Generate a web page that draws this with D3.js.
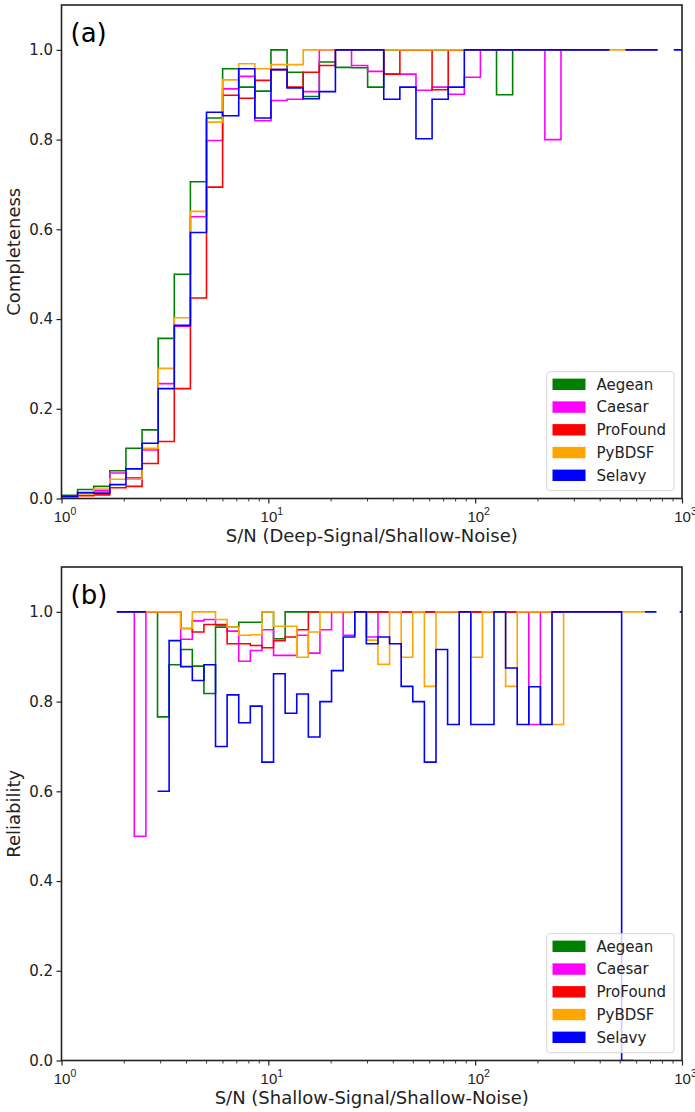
<!DOCTYPE html>
<html>
<head>
<meta charset="utf-8">
<script src="https://cdn.jsdelivr.net/npm/d3@7"></script>
<style>
  body { margin: 0; background: #fff; }
  svg { display: block; font-family: "DejaVu Sans", sans-serif; }
</style>
</head>
<body>
<div id="chart"></div>
<script>
const finders = ["Aegean", "Caesar", "ProFound", "PyBDSF", "Selavy"];
const finderColours = ["#008000", "#ff00ff", "#ff0000", "#ffa500", "#0000ff"];

// log spaced S/N bin edges, like np.logspace in the original
const completenessEdges = d3.range(40).map(i => 10 ** (0.0779 * i));
const reliabilityEdges = [10 ** 0.2678].concat(d3.range(49).map(i => 10 ** (0.352 + 0.0561 * i)));

const xTickValues = [1, 10, 100, 1000];
const xTickPowers = ["0", "1", "2", "3"];
const yTickValues = [0, 0.2, 0.4, 0.6, 0.8, 1.0];

// (a) completeness per bin, null = empty bin
const completenessAegean = [0.007, 0.020, 0.027, 0.062, 0.112, 0.153, 0.357, 0.500, 0.706, 0.848,
    0.958, 0.917, 0.908, 1.000, 0.950, 0.896, 0.973, 0.961, 0.960, 0.917,
    1, 1, 1, 1, 1, 1, 1, 0.900, 1, 1,
    1, 1, 1, 1, null, null, null, null, null];
const completenessCaesar = [0.005, 0.012, 0.017, 0.057, 0.046, 0.108, 0.256, 0.384, 0.628, 0.798,
    0.913, 0.941, 0.842, 0.887, 0.890, 0.907, 1, 1, 0.965, 0.952,
    0.946, 0.946, 0.910, 0.917, 0.901, 0.939, 1, 1, 1, 1,
    0.800, 1, 1, 1, null, null, null, null, null];
const completenessProFound = [0.003, 0.006, 0.008, 0.024, 0.027, 0.078, 0.127, 0.245, 0.447, 0.694,
    0.899, 0.892, 0.932, 0.956, 0.917, 0.950, 0.965, 1, 1, 1,
    0.946, 1, 1, 0.911, 1, 1, 1, 1, 1, 1,
    1, 1, 1, 1, null, null, null, null, null];
const completenessPyBDSF = [0.004, 0.010, 0.021, 0.043, 0.043, 0.112, 0.290, 0.403, 0.640, 0.839,
    0.933, 0.969, 0.958, 0.967, 0.967, 1, 1, 1, 1, 1,
    1, 1, 1, 1, 1, 1, 1, 1, 1, 1,
    1, 1, 1, 1, 1, 1, 1, null, null];
const completenessSelavy = [0.005, 0.013, 0.012, 0.031, 0.066, 0.123, 0.245, 0.386, 0.593, 0.861,
    0.853, 0.958, 0.848, 0.956, 0.915, 0.891, 0.907, 1, 1, 1,
    0.890, 0.917, 0.802, 0.890, 0.917, 1, 1, 1, 1, 1,
    1, 1, 1, 1, null, 1, 1, null, 1];

// (b) reliability per bin
const reliabilityAegean = [1, 1, 1, 0.766, 0.882, 0.916, 0.879, 0.818, 0.966, 0.966, 0.977,
    0.977, 1, 0.940, 1, 1, 1, 1, 1, 1, 1,
    1, 1, 1, 1, 1, 1, 1, 1, 1, 1,
    1, 1, 1, 1, 1, 1, 1, 1, 1, 1,
    1, 1, null, null, null, null, null, null];
const reliabilityCaesar = [1, 0.5, 1, 1, 1, 0.939, 0.980, 0.983, 0.970, 0.957, 0.890,
    0.914, 0.960, 0.903, 0.903, 0.948, 0.908, 0.960, 1, 0.948, 1,
    0.944, 1, 1, 1, 1, 1, 1, 1, 1, 1,
    1, 1, 1, 1, 0.749, 1, 1, 1, 1, 1,
    1, 1, null, null, null, null, null, null];
const reliabilityProFound = [1, 1, 1, 1, 1, 0.963, 0.955, 0.972, 0.972, 0.929, 0.929,
    0.925, 0.920, 0.936, 0.944, 0.960, 1, 1, 1, 1, 1,
    1, 1, 1, 1, 1, 1, 1, 1, 1, 1,
    1, 1, 1, 1, 1, 1, 1, 1, 1, 1,
    1, 1, null, null, null, null, null, null];
const reliabilityPyBDSF = [1, 1, 1, 1, 1, 0.963, 1, 1, 0.983, 0.966, 0.948,
    0.949, 1, 0.968, 0.968, 0.899, 0.955, 1, 1, 1, 1,
    0.937, 0.883, 1, 0.899, 1, 0.834, 1, 1, 1, 0.899,
    1, 1, 0.834, 1, 1, 1, 0.749, 1, 1, 1,
    1, 1, 1, 1, null, null, null, null];
const reliabilitySelavy = [1, 1, null, 0.600, 0.936, 0.878, 0.847, 0.882, 0.700, 0.815, 0.753,
    0.790, 0.665, 0.862, 0.774, 0.817, 0.721, 0.800, 0.869, 0.944, 1,
    0.929, 0.944, 0.929, 0.834, 0.800, 0.665, 0.916, 0.749, 1, 0.749,
    0.749, 1, 0.875, 0.749, 0.833, 0.749, 1, 1, 1, 1,
    1, 1, 0, null, 1, null, null, 1];

const svg = d3.select("#chart").append("svg")
    .attr("width", 695)
    .attr("height", 1112);

const plotLeft = 61.5, plotRight = 682;
const ink = "#222";

function drawPanel(cfg) {
    const x = d3.scaleLog().domain([1, 1000]).range([plotLeft, plotRight]);
    const y = d3.scaleLinear().domain([0, 1.1]).range([cfg.bottom, cfg.top]);
    const g = svg.append("g");

    g.append("clipPath").attr("id", "clip-" + cfg.tag)
      .append("rect")
        .attr("x", plotLeft).attr("y", cfg.top)
        .attr("width", plotRight - plotLeft).attr("height", cfg.bottom - cfg.top);

    const lines = g.append("g").attr("clip-path", `url(#clip-${cfg.tag})`);
    const line = d3.line()
        .defined(d => d !== null)
        .x(d => x(d.sn))
        .y(d => y(d.v));

    cfg.series.forEach((vals, si) => {
        // step outline: each bin is a flat run between its edges
        const pts = [];
        vals.forEach((v, i) => {
            if (v === null) { pts.push(null); return; }
            pts.push({sn: cfg.edges[i], v: v}, {sn: cfg.edges[i + 1], v: v});
        });
        lines.append("path")
            .attr("d", line(pts))
            .attr("fill", "none")
            .attr("stroke", finderColours[si])
            .attr("stroke-width", 1.6)
            .attr("stroke-linejoin", "miter");
    });

    // y axis
    const yAxis = d3.axisLeft(y).tickValues(yTickValues).tickFormat(d3.format(".1f"))
        .tickSize(5).tickPadding(3.5);
    const yg = g.append("g").attr("transform", `translate(${plotLeft},0)`).call(yAxis);
    yg.select(".domain").remove();
    yg.selectAll("line").attr("stroke", ink).attr("stroke-width", 1.2);
    yg.selectAll("text").attr("fill", ink).style("font-size", "15px")
        .style("font-family", "DejaVu Sans");

    // x axis, major + minor ticks
    const minor = [];
    [1, 10, 100].forEach(dec => d3.range(2, 10).forEach(m => minor.push(dec * m)));
    const xMinor = d3.axisBottom(x).tickValues(minor).tickSize(3).tickFormat("");
    const xmg = g.append("g").attr("transform", `translate(0,${cfg.bottom})`).call(xMinor);
    xmg.select(".domain").remove();
    xmg.selectAll("line").attr("stroke", ink).attr("stroke-width", 0.9);

    const xMajor = d3.axisBottom(x).tickValues(xTickValues).tickSize(5).tickFormat("");
    const xg = g.append("g").attr("transform", `translate(0,${cfg.bottom})`).call(xMajor);
    xg.select(".domain").remove();
    xg.selectAll("line").attr("stroke", ink).attr("stroke-width", 1.2);
    xg.selectAll(".tick text").remove();
    xg.selectAll(".tick").each(function(d, i) {
        const t = d3.select(this).append("text")
            .attr("y", 23)
            .attr("x", 3)
            .attr("text-anchor", "middle")
            .attr("fill", ink)
            .style("font-size", "15px");
        t.append("tspan").text("10");
        t.append("tspan").attr("dy", -7).style("font-size", "10.5px").text(xTickPowers[i]);
    });

    // frame
    g.append("rect")
        .attr("x", plotLeft).attr("y", cfg.top)
        .attr("width", plotRight - plotLeft).attr("height", cfg.bottom - cfg.top)
        .attr("fill", "none").attr("stroke", ink).attr("stroke-width", 1.6);

    // labels
    g.append("text")
        .attr("x", (plotLeft + plotRight) / 2).attr("y", cfg.bottom + 43)
        .attr("text-anchor", "middle").attr("fill", ink)
        .style("font-size", "18px")
        .text(cfg.xLabel);
    g.append("text")
        .attr("transform", `translate(20,${(cfg.top + cfg.bottom) / 2}) rotate(-90)`)
        .attr("text-anchor", "middle").attr("fill", ink)
        .style("font-size", "18px")
        .text(cfg.yLabel);
    g.append("text")
        .attr("x", 70.5).attr("y", cfg.top + 36.5)
        .attr("fill", "#000")
        .style("font-size", "26px")
        .text(cfg.tag === "a" ? "(a)" : "(b)");

    // legend
    const leg = g.append("g").attr("transform", `translate(546.7,${cfg.bottom - 126.8})`);
    leg.append("rect")
        .attr("width", 127.3).attr("height", 119).attr("rx", 3)
        .attr("fill", "#fff").attr("fill-opacity", 0.8)
        .attr("stroke", "#d6d6d6").attr("stroke-width", 1);
    finders.forEach((name, i) => {
        const row = leg.append("g").attr("transform", `translate(0,${12.6 + 22.75 * i})`);
        row.append("rect")
            .attr("x", 5.8).attr("y", -5.7)
            .attr("width", 33).attr("height", 11.4)
            .attr("fill", finderColours[i]);
        row.append("text")
            .attr("x", 49.8).attr("dy", "0.35em")
            .attr("fill", ink)
            .style("font-size", "15px")
            .text(name);
    });
}

drawPanel({
    tag: "a",
    top: 5, bottom: 498.5,
    edges: completenessEdges,
    series: [completenessAegean, completenessCaesar, completenessProFound, completenessPyBDSF, completenessSelavy],
    xLabel: "S/N (Deep-Signal/Shallow-Noise)",
    yLabel: "Completeness"
});

drawPanel({
    tag: "b",
    top: 567, bottom: 1060.5,
    edges: reliabilityEdges,
    series: [reliabilityAegean, reliabilityCaesar, reliabilityProFound, reliabilityPyBDSF, reliabilitySelavy],
    xLabel: "S/N (Shallow-Signal/Shallow-Noise)",
    yLabel: "Reliability"
});
</script>
</body>
</html>
